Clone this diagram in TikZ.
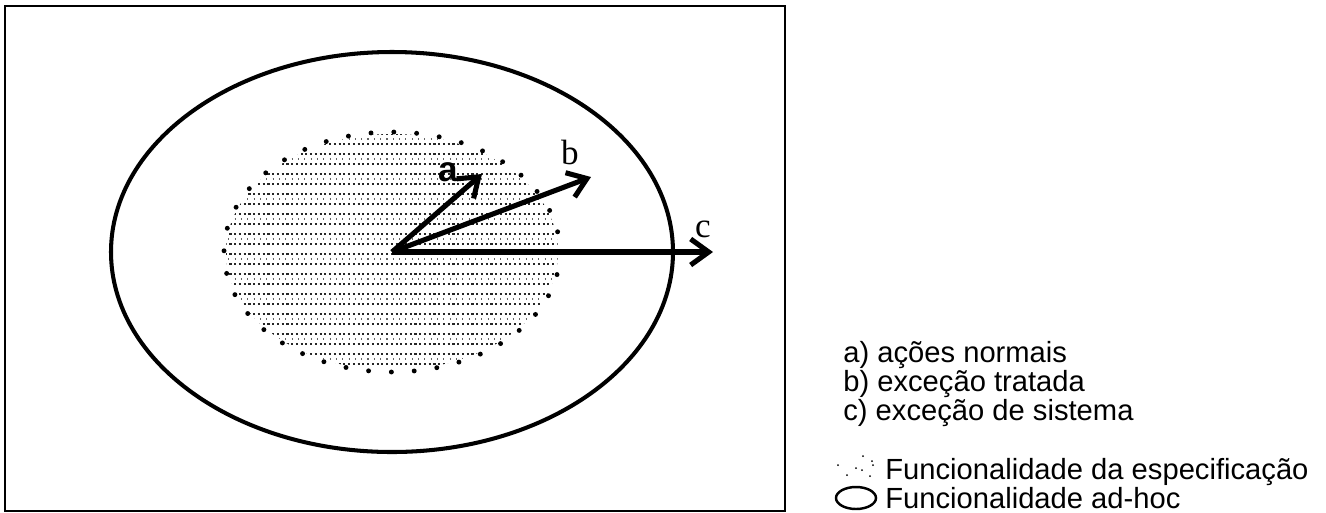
\documentclass[tikz,border=0pt]{standalone}
\usepackage{fontspec}
\setmainfont{Liberation Sans}
\newfontfamily\lblfont{Liberation Serif}
\usetikzlibrary{arrows.meta}
\tikzset{
  vec/.style={line width=2.9pt,-{Straight Barb[length=3.6mm,width=5.2mm]}},
  legend/.style={anchor=base west,inner sep=0pt,font=\fontsize{16.6}{19}\selectfont},
}
\begin{document}
\begin{tikzpicture}[x=0.02cm,y=-0.02cm]
\useasboundingbox (0,0) rectangle (1326,512);
\draw[line width=0.6pt] (5,6) rectangle (785,511);
\coordinate (o) at (392,252);
% funcionalidade da especificacao
\begin{scope}
\clip (o) ellipse [x radius=166, y radius=118];
\foreach \y in {134,144,...,374} {
  \draw[black!85,line width=1pt,dash pattern=on 1.2pt off 1.5pt] (220,\y) -- (565,\y);
}
\foreach \y in {139,159,...,374} {
  \draw[black!60,line width=0.6pt,dash pattern=on 0.6pt off 3pt] (222,\y) -- (565,\y);
}
\end{scope}
\draw[line width=2.8pt,line cap=round,dash pattern=on 0pt off 13pt] (o) ellipse [x radius=168, y radius=120];
% funcionalidade ad-hoc
\draw[line width=2.3pt] (o) ellipse [x radius=281, y radius=200];
\coordinate (ta) at (482,174);
\coordinate (tb) at (591,177);
\coordinate (tc) at (713,252);
\foreach \t in {ta,tb,tc} {
  \draw[vec] (o) -- (\t);
}
\node[font=\bfseries\fontsize{20}{20}\selectfont] (la) at (448,172) {a};
\node[font=\lblfont\fontsize{20}{20}\selectfont] (lb) at (570,152) {b};
\node[font=\lblfont\fontsize{20}{20}\selectfont] (lc) at (703,229) {c};
% legenda
\node[legend] (ka) at (843,362) {a) ações normais};
\node[legend] (kb) at (843,391) {b) exceção tratada};
\node[legend] (kc) at (843,420) {c) exceção de sistema};
\foreach \p in {(863,456),(872,461),(873,465),(862,470),(838,465),(847,475),(870,476),(856,468)} {
  \fill \p circle [radius=1];
}
\node[legend] (ke) at (885,479) {Funcionalidade da especificação};
\draw[line width=1.4pt] (856,498) ellipse [x radius=20, y radius=11];
\node[legend] (kh) at (885,508) {Funcionalidade ad-hoc};
\end{tikzpicture}
\end{document}
